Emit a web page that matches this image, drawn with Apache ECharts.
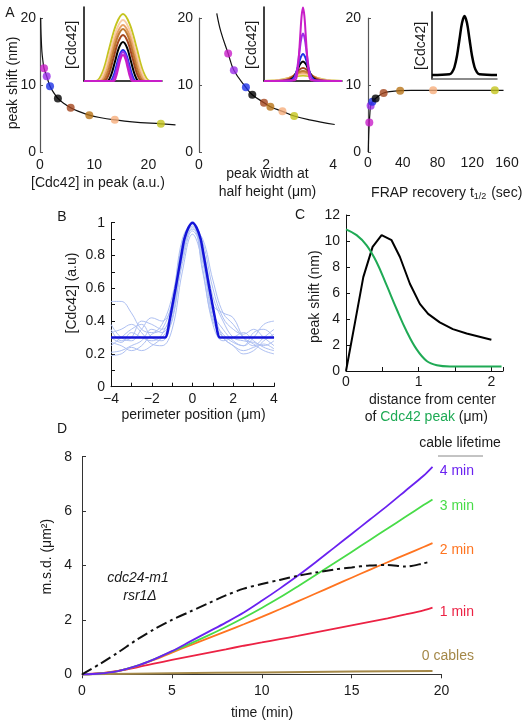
<!DOCTYPE html>
<html><head><meta charset="utf-8">
<script src="https://cdn.jsdelivr.net/npm/echarts@6/dist/echarts.min.js"></script>
<style>html,body{margin:0;padding:0;background:#fff}#c{width:526px;height:728px}</style>
</head><body><div id="c"></div>
<script>
// ---------- DATA ----------
const sampleColors = ['#c81ec8','#9a2ee8','#1e32e6','#000000','#a4461e','#b87418','#f6ae7c','#c4c41e'];
// Panel A1
const a1DotX = [0.74,1.24,1.85,3.3,5.66,9.1,13.8,22.3];
const a1DotY = [12.5,11.3,9.8,8.0,6.6,5.5,4.8,4.2];
const a1CurveX = [0.12,0.2,0.35,0.55,0.74,1.24,1.85,2.5,3.3,4.5,5.66,7,9.1,11,13.8,17,22.3,25];
const a1CurveY = [20,17.5,15,13.5,12.5,11.3,9.8,8.9,8.0,7.2,6.6,6.1,5.5,5.15,4.8,4.5,4.2,4.05];
// Panel A2
const a2DotX = [0.87,1.04,1.40,1.59,1.94,2.13,2.49,2.84];
const a2DotY = [14.7,12.2,9.65,8.55,7.36,6.76,6.07,5.37];
const a2CurveX = [0.53,0.65,0.87,1.04,1.4,1.59,1.94,2.13,2.49,2.84,3.3,4.05];
const a2CurveY = [20.7,18,14.7,12.2,9.65,8.55,7.36,6.76,6.07,5.37,4.8,4.1];
// Panel A3
const a3DotX = [1.5,3,5,8.8,18,37,75,146];
const a3DotY = [4.4,6.9,7.5,8.0,8.8,9.15,9.2,9.2];
const a3CurveX = [0.3,0.8,1.5,2.2,3,5,8.8,13,18,25,37,50,75,110,156];
const a3CurveY = [0,2.5,4.4,5.8,6.9,7.5,8.0,8.45,8.8,9.0,9.15,9.2,9.2,9.2,9.2];
// Insets (half profiles, mirrored; units = inset pixels)
const insetColors = ['#c4c41e','#f8cca4','#e8a264','#c07a32','#a4461e','#000000','#1e32e6','#9a2ee8','#c81ec8'];
const inset1Half = [
 [[0,67],[6.7,57],[13.5,33.5],[20,10],[27,0],[39,0]],
 [[0,61],[6.2,52],[12.5,30.5],[18.7,9],[25,0],[39,0]],
 [[0,56],[5.7,47.8],[11.5,28],[17.2,8.2],[23,0],[39,0]],
 [[0,52],[5.2,44.4],[10.5,26],[15.7,7.6],[21,0],[39,0]],
 [[0,46],[4.7,39.3],[9.5,23],[14.2,6.7],[19,0],[39,0]],
 [[0,39],[4,33.3],[8,19.5],[12,5.7],[16,0],[39,0]],
 [[0,31],[3.2,26.5],[6.5,15.5],[9.7,4.5],[13,0],[39,0]],
 [[0,29],[2.9,24.8],[5.7,14.5],[8.6,4.2],[11.5,0],[39,0]],
 [[0,26],[2.4,22.2],[4.7,13],[7.1,3.8],[9.5,0],[39,0]]
];
const inset2Half = [
 [[0,5.5],[6.5,4.9],[13,3.3],[19.5,1.8],[26,0.7],[39,0.1]],
 [[0,7],[5.5,6.2],[11,4.2],[16.5,2.3],[22,0.9],[33,0.1],[39,0]],
 [[0,8.5],[4.8,7.5],[9.6,5.2],[14.4,2.8],[19.2,1.1],[28.8,0.1],[39,0]],
 [[0,10],[4,8.8],[8,6.1],[12,3.3],[16,1.4],[24,0.1],[39,0]],
 [[0,13],[3.4,11.5],[6.8,7.9],[10.2,4.2],[13.6,1.8],[20.4,0.1],[39,0]],
 [[0,19.5],[2.6,17.2],[5.2,11.8],[7.8,6.3],[10.4,2.6],[15.6,0.2],[39,0]],
 [[0,27],[2.2,23.8],[4.4,16.4],[6.6,8.8],[8.8,3.6],[13.2,0.3],[39,0]],
 [[0,47.5],[1.8,41.9],[3.6,28.8],[5.4,15.4],[7.2,6.4],[10.8,0.5],[39,0]],
 [[0,73.5],[1.4,64.8],[2.8,44.6],[4.2,23.9],[5.6,9.9],[8.4,0.8],[39,0]]
];
const inset3Half = [[0,63],[2.5,56],[5,39.8],[7.5,23.2],[10,12],[12.5,6.6],[15,4.7],[32.5,4]];
// Panel B
const bX = [-4,-3.5,-3,-2.5,-2,-1.5,-1,-0.5,0,0.5,1,1.5,2,2.5,3,3.5,4];
const bTraces = [
 [0.52,0.52,0.45,0.35,0.33,0.38,0.55,0.85,0.98,0.80,0.50,0.45,0.42,0.30,0.25,0.30,0.35],
 [0.38,0.30,0.28,0.35,0.42,0.40,0.50,0.82,1.00,0.85,0.55,0.40,0.30,0.28,0.27,0.25,0.28],
 [0.35,0.28,0.30,0.40,0.38,0.35,0.45,0.80,0.97,0.78,0.45,0.35,0.28,0.25,0.30,0.38,0.40],
 [0.30,0.27,0.33,0.30,0.28,0.32,0.48,0.88,1.00,0.70,0.40,0.30,0.25,0.22,0.24,0.26,0.23],
 [0.27,0.25,0.22,0.25,0.32,0.35,0.52,0.90,0.99,0.88,0.60,0.42,0.35,0.32,0.35,0.30,0.25],
 [0.25,0.30,0.35,0.38,0.30,0.28,0.42,0.75,0.95,0.82,0.48,0.30,0.25,0.20,0.22,0.28,0.32],
 [0.21,0.22,0.25,0.28,0.35,0.33,0.45,0.85,1.00,0.72,0.38,0.28,0.30,0.33,0.28,0.24,0.22],
 [0.19,0.20,0.24,0.22,0.25,0.30,0.40,0.78,0.96,0.90,0.65,0.45,0.38,0.30,0.26,0.22,0.20],
 [0.33,0.35,0.38,0.33,0.26,0.25,0.35,0.70,0.93,0.76,0.42,0.32,0.27,0.25,0.33,0.35,0.30]
];
const bFitX = [-4,-1.35,-1.25,-1.13,-0.98,-0.83,-0.69,-0.55,-0.4,-0.2,0,0.2,0.4,0.55,0.69,0.83,0.98,1.13,1.25,1.35,4];
const bFitY = [0.3,0.3,0.32,0.4,0.5,0.6,0.7,0.8,0.9,0.97,1,0.97,0.9,0.8,0.7,0.6,0.5,0.4,0.32,0.3,0.3];
// Panel C
const cBlackX = [0,0.124,0.238,0.366,0.49,0.627,0.742,0.879,1.016,1.13,1.29,1.47,1.66,2.0];
const cBlackY = [0,3.74,7.22,9.55,10.45,10.06,8.77,6.71,5.16,4.39,3.74,3.22,2.89,2.40];
const cGreenX = [0,0.146,0.284,0.42,0.56,0.696,0.83,0.97,1.11,1.25,1.43,2.14];
const cGreenY = [10.9,10.45,9.67,8.39,6.58,4.77,3.1,1.68,0.77,0.44,0.35,0.35];
// Panel D
const dX = [0,1,2,3,4,5,6,7,8,9,10,11,12,13,14,15,16,17,18,19,19.5];
const d4min = [0,0.03,0.12,0.3,0.55,0.85,1.2,1.55,1.9,2.27,2.7,3.15,3.62,4.12,4.64,5.16,5.68,6.2,6.75,7.3,7.63];
const d3min = [0,0.03,0.12,0.3,0.55,0.84,1.12,1.42,1.74,2.08,2.44,2.82,3.23,3.65,4.07,4.5,4.93,5.36,5.79,6.22,6.43];
const d2min = [0,0.03,0.12,0.29,0.53,0.8,1.06,1.32,1.58,1.84,2.11,2.39,2.68,2.97,3.26,3.55,3.84,4.12,4.4,4.68,4.82];
const d1min = [0,0.04,0.13,0.25,0.39,0.53,0.66,0.79,0.92,1.05,1.17,1.29,1.41,1.54,1.67,1.8,1.93,2.06,2.2,2.35,2.45];
const d0X = [0,5,10,15,19.5];
const d0cables = [0,0.04,0.07,0.1,0.12];
const dMutX = [0,1,2,3,4,5,6,7,8,9,10,11,12,13,14,15,16,17,18,19,19.4];
const dMutY = [0,0.38,0.8,1.25,1.65,2.0,2.3,2.6,2.9,3.15,3.32,3.47,3.62,3.74,3.85,3.93,4.0,4.02,3.96,4.08,4.15];
const dColors = {m4:'#6a22f0', m3:'#48dc48', m2:'#ff7420', m1:'#ec2244', c0:'#a48848'};

// ---------- HELPERS ----------
const FONT = 'Liberation Sans, Arial, Helvetica, sans-serif';
const TXT = '#1a1a1a';
const zip = (xs, ys) => xs.map((x, i) => [x, ys[i]]);
const mirror = half => half.slice().reverse().map(p => [-p[0], p[1]]).concat(half.slice(1));

function valAxis(gi, min, max, interval, o) {
  o = o || {};
  return {
    type: 'value', gridIndex: gi, min: min, max: max, interval: interval,
    axisLine: { show: o.line !== false, onZero: false, lineStyle: { color: o.lineColor || '#333', width: o.lineWidth || 1 } },
    axisTick: { show: !!o.tick, inside: o.tickInside !== false, length: o.tickLen || 4, lineStyle: { color: o.lineColor || '#333' } },
    axisLabel: { show: o.label !== false, margin: o.margin || 6, color: TXT, fontFamily: FONT, fontSize: 14, formatter: o.fmt },
    splitLine: { show: false }
  };
}
const every = (step) => (v) => {
  const k = Math.round(v / step * 1000) / 1000;
  return Number.isInteger(k) ? String(Math.round(v * 10) / 10).replace('-', '\u2212') : '';
};

const grids = [
  { left: 40, top: 18, width: 135.5, height: 134 },   // 0 A1
  { left: 84, top: 7, width: 78, height: 74 },        // 1 A1 inset
  { left: 199, top: 18, width: 137.4, height: 134 },  // 2 A2
  { left: 264, top: 7, width: 78, height: 74 },       // 3 A2 inset
  { left: 368, top: 18, width: 139, height: 134 },    // 4 A3
  { left: 432, top: 12, width: 65, height: 67 },      // 5 A3 inset
  { left: 111, top: 222.7, width: 163, height: 164 }, // 6 B
  { left: 346, top: 215, width: 157, height: 156 },   // 7 C
  { left: 82, top: 456.7, width: 359.5, height: 217.6 } // 8 D
];

const insetAxisX = (gi, min, max, color) => valAxis(gi, min, max, null, { label: false, lineColor: color || '#000', lineWidth: 1.5 });
const insetAxisY = (gi, min, max) => valAxis(gi, min, max, null, { label: false, lineColor: '#000', lineWidth: 1.5 });

const xAxes = [
  valAxis(0, 0, 25, 10, { line: false, fmt: every(10), margin: 6 }),
  insetAxisX(1, -39, 39),
  valAxis(2, 0, 4.1, 2, { line: false, fmt: every(2), margin: 6 }),
  insetAxisX(3, -39, 39),
  valAxis(4, 0, 160, 40, { line: false, fmt: every(40), margin: 4 }),
  insetAxisX(5, -32.5, 32.5, '#666'),
  valAxis(6, -4, 4, 1, { tick: true, fmt: every(2), margin: 5, lineColor: '#111' }),
  valAxis(7, 0, 2.16, 0.5, { tick: true, fmt: every(1), margin: 4, lineColor: '#111' }),
  valAxis(8, 0, 20, 5, { tick: true, tickInside: false, fmt: every(5), margin: 10, lineColor: '#333' })
];
const yAxes = [
  valAxis(0, 0, 20, 10, { lineColor: '#555', lineWidth: 1.2, tick: true, tickLen: 3, fmt: every(10), margin: 4 }),
  insetAxisY(1, 0, 74),
  valAxis(2, 0, 20, 10, { lineColor: '#555', lineWidth: 1.2, tick: true, tickLen: 3, fmt: every(10), margin: 6 }),
  insetAxisY(3, 0, 74),
  valAxis(4, 0, 20, 10, { lineColor: '#555', lineWidth: 1.2, tick: true, tickLen: 3, fmt: every(10), margin: 7 }),
  insetAxisY(5, 0, 67),
  valAxis(6, 0, 1, 0.1, { tick: true, fmt: every(0.2), margin: 6, lineColor: '#111' }),
  valAxis(7, 0, 12, 2, { tick: true, fmt: every(2), margin: 6, lineColor: '#111' }),
  valAxis(8, 0, 8, 2, { tick: true, fmt: every(2), margin: 10, lineColor: '#333' })
];

const series = [];
const line = (gi, data, color, width, extra) => series.push(Object.assign({
  type: 'line', xAxisIndex: gi, yAxisIndex: gi, data: data, symbol: 'none', clip: false,
  lineStyle: { color: color, width: width }, itemStyle: { color: color }
}, extra || {}));
const dots = (gi, xs, ys) => series.push({
  type: 'scatter', xAxisIndex: gi, yAxisIndex: gi, symbolSize: 8, z: 5,
  data: xs.map((x, i) => ({ value: [x, ys[i]], itemStyle: { color: sampleColors[i] } }))
});

// A1
line(0, zip(a1CurveX, a1CurveY), '#111', 1.2, { smooth: 0.4 });
dots(0, a1DotX, a1DotY);
inset1Half.forEach((h, i) => line(1, mirror(h), insetColors[i], 2, { smooth: 0.35 }));
// A2
line(2, zip(a2CurveX, a2CurveY), '#111', 1.2, { smooth: 0.4 });
dots(2, a2DotX, a2DotY);
inset2Half.forEach((h, i) => line(3, mirror(h), insetColors[i], 2, { smooth: 0.35 }));
// A3
line(4, zip(a3CurveX, a3CurveY), '#111', 1.2, { smooth: 0.3 });
dots(4, a3DotX, a3DotY);
line(5, mirror(inset3Half), '#000', 2.5, { smooth: 0.35 });
// B
bTraces.forEach(t => line(6, zip(bX, t), '#aec0f2', 1, { smooth: 0.4 }));
line(6, zip(bFitX, bFitY), '#1414d8', 2.5, { smooth: 0.3, z: 4 });
// C
line(7, zip(cBlackX, cBlackY), '#000', 2, {});
line(7, zip(cGreenX, cGreenY), '#1faa55', 2, { smooth: 0.4 });
// D
line(8, zip(d0X, d0cables), dColors.c0, 2, { smooth: 0.3 });
line(8, zip(dX, d1min), dColors.m1, 1.8, { smooth: 0.3 });
line(8, zip(dX, d2min), dColors.m2, 1.8, { smooth: 0.3 });
line(8, zip(dX, d3min), dColors.m3, 1.8, { smooth: 0.3 });
line(8, zip(dX, d4min), dColors.m4, 1.8, { smooth: 0.3 });
line(8, zip(dMutX, dMutY), '#111', 2, { smooth: 0.3, lineStyle: { color: '#111', width: 2, type: [11, 4, 3, 4] } });

// ---------- TEXT ----------
const T = (x, y, text, o) => {
  o = o || {};
  return {
    type: 'text', x: x, y: y, rotation: o.rot ? Math.PI / 2 : 0, z: 10,
    style: {
      text: text, fill: o.color || TXT, font: (o.italic ? 'italic ' : '') + (o.size || 14) + 'px ' + FONT,
      textAlign: o.align || 'center', textVerticalAlign: 'middle', rich: o.rich
    }
  };
};
const graphics = [
  T(10, 13, 'A'),
  T(13.3, 83, 'peak shift (nm)', { rot: true }),
  T(71.7, 45, '[Cdc42]', { rot: true }),
  T(98, 182.7, '[Cdc42] in peak (a.u.)'),
  T(251.7, 45, '[Cdc42]', { rot: true }),
  T(267.5, 174.3, 'peak width at'),
  T(267.5, 191.7, 'half height (\u03bcm)'),
  T(421, 46, '[Cdc42]', { rot: true }),
  T(446.7, 192.7, 'FRAP recovery t{s|1/2} (sec)', { rich: { s: { font: '9px ' + FONT, fill: TXT, padding: [7, 1, 0, 0] } } }),
  T(62, 217, 'B'),
  T(72, 293, '[Cdc42] (a.u)', { rot: true }),
  T(193.5, 415, 'perimeter position (\u03bcm)'),
  T(300, 215, 'C'),
  T(315, 296.7, 'peak shift (nm)', { rot: true }),
  T(432.5, 400, 'distance from center'),
  T(426.3, 417.3, 'of {g|Cdc42 peak} (\u03bcm)', { rich: { g: { fill: '#1faa55', font: '14px ' + FONT } } }),
  T(62, 429, 'D'),
  T(460, 443, 'cable lifetime'),
  { type: 'line', shape: { x1: 438, y1: 456, x2: 483, y2: 456 }, style: { stroke: '#888', lineWidth: 1 } },
  T(474, 470.7, '4 min', { align: 'right', color: dColors.m4 }),
  T(474, 505.7, '3 min', { align: 'right', color: dColors.m3 }),
  T(474, 550, '2 min', { align: 'right', color: dColors.m2 }),
  T(474, 612.3, '1 min', { align: 'right', color: dColors.m1 }),
  T(474, 656, '0 cables', { align: 'right', color: dColors.c0 }),
  T(138, 578, 'cdc24-m1', { italic: true }),
  T(140, 596, 'rsr1\u0394', { italic: true }),
  T(46.7, 556.7, 'm.s.d. (\u03bcm\u00b2)', { rot: true }),
  T(262, 712.7, 'time (min)')
];

const chart = echarts.init(document.getElementById('c'), null, { renderer: 'canvas' });
chart.setOption({
  animation: false,
  backgroundColor: '#fff',
  grid: grids,
  xAxis: xAxes,
  yAxis: yAxes,
  series: series,
  graphic: graphics
});
</script></body></html>
